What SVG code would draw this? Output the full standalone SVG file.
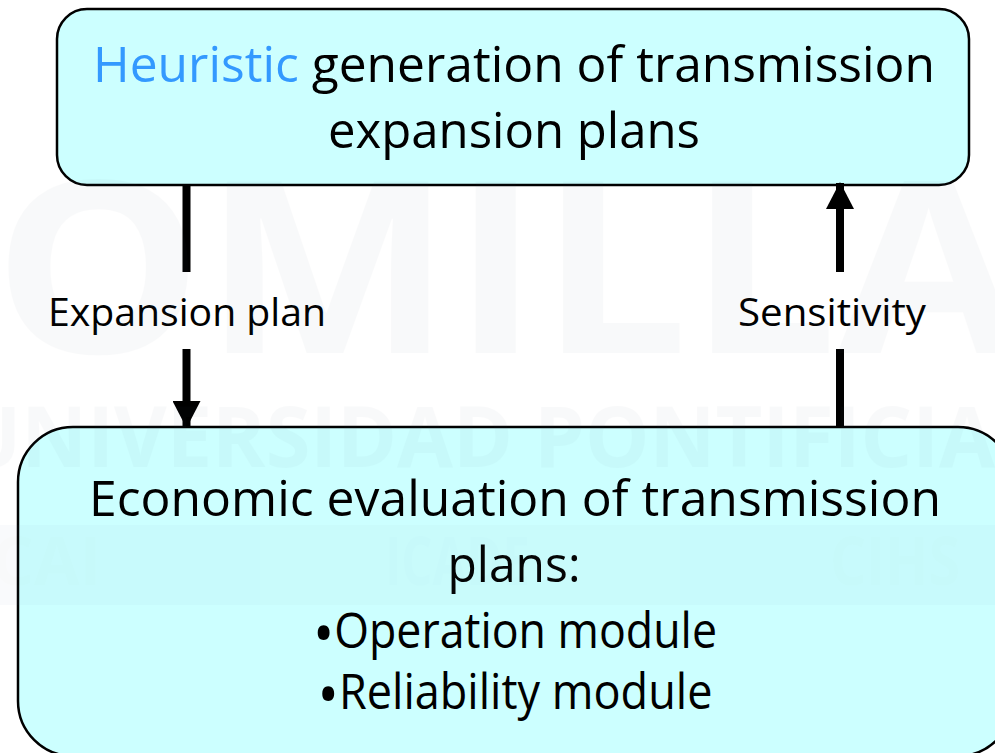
<svg xmlns="http://www.w3.org/2000/svg" width="995" height="753" viewBox="0 0 995 753">
  <defs>
    <style>
      .box { fill: #CCFFFF; stroke: #000; stroke-width: 2.5; }
      .big { font-family: "Open Sans", "Noto Sans", "Liberation Sans", sans-serif; font-size: 49px; fill: #000; text-anchor: middle; }
      .lbl { font-family: "Open Sans", "Noto Sans", "Liberation Sans", sans-serif; font-size: 39px; fill: #000; text-anchor: middle; }
      .hl { fill: #3399FF; }
      .dot { font-size: 62px; }
      .wire { stroke: #000; stroke-width: 8; fill: none; }
      .mark { font-family: "Open Sans", "Noto Sans", "Liberation Sans", sans-serif; font-weight: 700; fill: #50647A; }
    </style>
    <marker id="head" markerUnits="userSpaceOnUse" markerWidth="28" markerHeight="28" viewBox="0 0 28 28" refX="26" refY="14" orient="auto">
      <path d="M0,0 L27,14 L0,28 Z" fill="#000"/>
    </marker>
  </defs>

  <rect x="0" y="0" width="995" height="753" fill="#FFFFFF"/>

  <!-- upper process box -->
  <g id="heuristic-generation">
    <rect class="box" x="57" y="9" width="912" height="176" rx="30" ry="30"/>
    <text class="big" x="514" y="82" textLength="842" lengthAdjust="spacingAndGlyphs"><tspan class="hl">Heuristic</tspan> generation of transmission</text>
    <text class="big" x="514" y="148" textLength="372" lengthAdjust="spacingAndGlyphs">expansion plans</text>
  </g>

  <!-- lower process box -->
  <g id="economic-evaluation">
    <rect class="box" x="18" y="427" width="995" height="329" rx="55" ry="55"/>
    <text class="big" x="515" y="516" textLength="852" lengthAdjust="spacingAndGlyphs">Economic evaluation of transmission</text>
    <text class="big" x="514" y="582" textLength="133" lengthAdjust="spacingAndGlyphs">plans:</text>
    <text class="big" x="515" y="648" textLength="404" lengthAdjust="spacingAndGlyphs"><tspan class="dot" dy="7">•</tspan><tspan dy="-7">Operation module</tspan></text>
    <text class="big" x="515" y="709" textLength="395" lengthAdjust="spacingAndGlyphs"><tspan class="dot" dy="7">•</tspan><tspan dy="-7">Reliability module</tspan></text>
  </g>

  <!-- connectors, each broken around its label -->
  <g id="connectors">
    <g id="plan-flow">
      <line class="wire" x1="186.5" y1="185" x2="186.5" y2="272"/>
      <line class="wire" x1="186.5" y1="349" x2="186.5" y2="427" marker-end="url(#head)"/>
      <text class="lbl" x="187" y="326" textLength="278" lengthAdjust="spacingAndGlyphs">Expansion plan</text>
    </g>
    <g id="sensitivity-flow">
      <line class="wire" x1="840" y1="427" x2="840" y2="349"/>
      <line class="wire" x1="840" y1="272" x2="840" y2="183" marker-end="url(#head)"/>
      <text class="lbl" x="832" y="326" textLength="188" lengthAdjust="spacingAndGlyphs">Sensitivity</text>
    </g>
  </g>

  <!-- faint institutional watermark -->
  <g id="watermark" opacity="0.03">
    <rect x="0" y="525" width="995" height="80" fill="#6A86B0"/>
    <rect x="260" y="525" width="420" height="80" fill="#8090A0"/>
    <text class="mark" x="-175" y="353" font-size="240" textLength="1340" lengthAdjust="spacingAndGlyphs">COMILLAS</text>
    <text class="mark" x="-40" y="467" font-size="84" textLength="1035" lengthAdjust="spacingAndGlyphs">UNIVERSIDAD PONTIFICIA</text>
    <text class="mark" x="-30" y="585" font-size="66">ICAI</text>
    <text class="mark" x="385" y="585" font-size="66" textLength="145" lengthAdjust="spacingAndGlyphs">ICADE</text>
    <text class="mark" x="830" y="585" font-size="66" textLength="130" lengthAdjust="spacingAndGlyphs">CIHS</text>
  </g>
</svg>
